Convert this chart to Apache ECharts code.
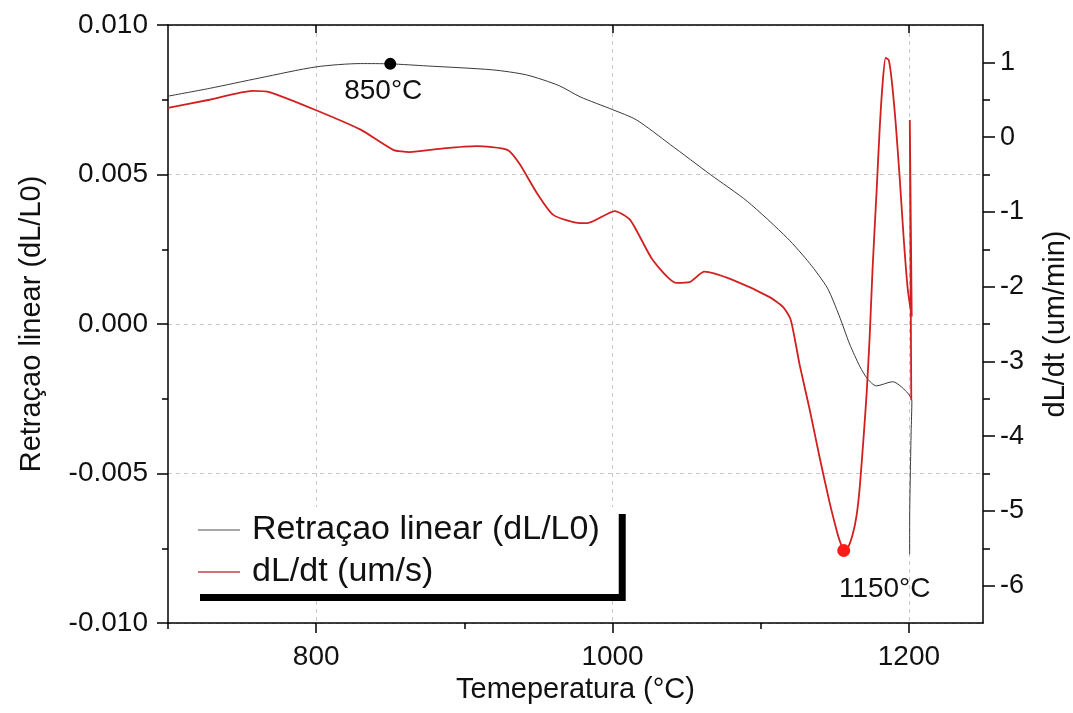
<!DOCTYPE html>
<html><head><meta charset="utf-8">
<script src="https://cdn.jsdelivr.net/npm/echarts@6/dist/echarts.min.js"></script>
<style>html,body{margin:0;padding:0;background:#fff}#c{width:1073px;height:713px}</style>
</head><body><div id="c"></div>
<script>
// Retração linear (dL/L0) vs temperatura
const tempRetracao = [700, 728, 762, 800, 830, 850, 875, 919, 942, 964, 978, 1000, 1016, 1039, 1066, 1091, 1118, 1133, 1145, 1153, 1160, 1167, 1172, 1178, 1189, 1198.5, 1202, 1201.5, 1201, 1200.5, 1200.5];
const retracao = [0.00762, 0.00788, 0.00823, 0.0086, 0.00871, 0.0087, 0.00863, 0.0085, 0.00833, 0.00797, 0.0076, 0.00717, 0.00683, 0.0060, 0.0050, 0.0041, 0.00287, 0.00203, 0.0012, 0.00027, -0.00067, -0.00143, -0.00183, -0.00207, -0.00193, -0.00227, -0.00257, -0.0036, -0.0049, -0.0066, -0.0077];
// dL/dt vs temperatura
const tempDldt = [700, 728, 757, 769, 800, 830, 852, 863, 886, 908, 929, 937, 949, 960, 978, 983, 1001.5, 1012, 1027, 1043, 1052, 1062, 1081, 1106, 1115, 1120, 1123, 1126.3, 1133.1, 1139.8, 1146.5, 1151.2, 1153.3, 1156, 1158.6, 1162, 1164.7, 1166.8, 1169.4, 1171.5, 1173.5, 1175.5, 1178.2, 1180.3, 1182.3, 1184.3, 1186.4, 1188.4, 1191.1, 1193.8, 1196.5, 1199.2, 1201.9, 1200.6, 1201.6];
const dldt = [0.39, 0.50, 0.62, 0.60, 0.36, 0.10, -0.17, -0.20, -0.15, -0.12, -0.17, -0.35, -0.75, -1.04, -1.15, -1.15, -0.99, -1.11, -1.64, -1.95, -1.94, -1.80, -1.91, -2.14, -2.27, -2.43, -2.70, -3.05, -3.65, -4.29, -4.89, -5.26, -5.40, -5.52, -5.50, -5.32, -5.06, -4.69, -4.02, -3.42, -2.68, -1.75, -0.72, 0.12, 0.73, 1.06, 1.03, 0.76, 0.18, -0.55, -1.36, -2.03, -2.40, 0.23, -3.52];
// annotated points
const markerBlack = [850, 0.0087];
const markerRed = [1156, -5.53];
const markerLabels = ['850°C', '1150°C'];
// ticks
const xMajorTicks = [800, 1000, 1200];
const xMinorTicks = [700, 900, 1100];
const yRightTicks = [-6, -5, -4, -3, -2, -1, 0, 1];
const yRightMinorTicks = [-5.5, -4.5, -3.5, -2.5, -1.5, -0.5, 0.5];
const seriesNames = ['Retraçao linear (dL/L0)', 'dL/dt (um/s)'];

const FONT = '"Liberation Sans", Arial, sans-serif';
const black = {color: '#000', width: 1.5};
const pair = (xs, ys) => xs.map((x, i) => [x, ys[i]]);

const chart = echarts.init(document.getElementById('c'), null, {renderer: 'canvas'});
chart.setOption({
  animation: false,
  backgroundColor: '#fff',
  textStyle: {fontFamily: FONT},
  grid: {left: 168, right: 90, top: 25, bottom: 90, containLabel: false, outerBoundsMode: 'none'},
  legend: {
    data: [
      {name: seriesNames[0], itemStyle: {color: '#8a8a8a'}},
      {name: seriesNames[1], itemStyle: {color: '#c2404a'}}
    ],
    orient: 'vertical', left: 193, top: 507,
    icon: 'rect', itemWidth: 42, itemHeight: 1.5, itemGap: 8,
    padding: [6, 19, 5, 5],
    backgroundColor: '#fff',
    shadowColor: '#000', shadowBlur: 0, shadowOffsetX: 7, shadowOffsetY: 7,
    selectedMode: false,
    textStyle: {fontSize: 34, color: '#111', fontFamily: FONT, padding: [0, 0, 0, 7]}
  },
  xAxis: [
    {
      type: 'value', position: 'bottom', min: 700, max: 1250,
      axisLine: {show: true, onZero: false, lineStyle: black},
      axisTick: {customValues: xMajorTicks, length: 10, lineStyle: black},
      axisLabel: {customValues: xMajorTicks, formatter: v => String(v), fontSize: 28, color: '#111', margin: 20, fontFamily: FONT},
      splitLine: {show: true, lineStyle: {type: [4, 4], color: '#c8c8c8', width: 1}},
      name: 'Temeperatura (°C)', nameLocation: 'middle', nameGap: 42,
      nameTextStyle: {fontSize: 29, color: '#111', fontFamily: FONT}
    },
    {
      type: 'value', position: 'bottom', min: 700, max: 1250,
      axisLine: {show: false, onZero: false},
      axisTick: {customValues: xMinorTicks, length: 6, lineStyle: black},
      axisLabel: {show: false}, splitLine: {show: false}
    },
    {
      type: 'value', position: 'top', min: 700, max: 1250,
      axisLine: {show: true, onZero: false, lineStyle: black},
      axisTick: {customValues: xMajorTicks, inside: true, length: 8, lineStyle: black},
      axisLabel: {show: false}, splitLine: {show: false}
    }
  ],
  yAxis: [
    {
      type: 'value', position: 'left', min: -0.01, max: 0.01, interval: 0.005,
      axisLine: {show: true, onZero: false, lineStyle: black},
      axisTick: {show: true, length: 11, lineStyle: black},
      minorTick: {show: true, splitNumber: 2, length: 6, lineStyle: black},
      axisLabel: {formatter: v => v.toFixed(3), fontSize: 28, color: '#111', margin: 20, fontFamily: FONT},
      splitLine: {show: true, lineStyle: {type: [4, 4], color: '#c8c8c8', width: 1}},
      name: 'Retraçao linear (dL/L0)', nameLocation: 'middle', nameRotate: 90, nameGap: 122,
      nameTextStyle: {fontSize: 29, color: '#111', fontFamily: FONT}
    },
    {
      type: 'value', position: 'right', min: -6.5, max: 1.5,
      axisLine: {show: true, onZero: false, lineStyle: black},
      axisTick: {customValues: yRightTicks, length: 12, lineStyle: black},
      axisLabel: {customValues: yRightTicks, fontSize: 27, color: '#111', margin: 17, fontFamily: FONT},
      splitLine: {show: false},
      name: 'dL/dt (um/min)', nameLocation: 'middle', nameRotate: 90, nameGap: 58,
      nameTextStyle: {fontSize: 29, color: '#111', fontFamily: FONT}
    },
    {
      type: 'value', position: 'right', min: -6.5, max: 1.5,
      axisLine: {show: false, onZero: false},
      axisTick: {customValues: yRightMinorTicks, length: 7, lineStyle: black},
      axisLabel: {show: false}, splitLine: {show: false}
    }
  ],
  series: [
    {
      name: seriesNames[0], type: 'line', xAxisIndex: 0, yAxisIndex: 0,
      data: pair(tempRetracao, retracao), showSymbol: false, smooth: 0.25,
      lineStyle: {color: '#3a3a3a', width: 1}, itemStyle: {color: '#3a3a3a'}, z: 3
    },
    {
      name: seriesNames[1], type: 'line', xAxisIndex: 0, yAxisIndex: 1,
      data: pair(tempDldt, dldt), showSymbol: false, smooth: 0.2,
      lineStyle: {color: '#d21f1f', width: 1.8}, itemStyle: {color: '#d21f1f'}, z: 3
    },
    {
      name: 'm850', type: 'scatter', xAxisIndex: 0, yAxisIndex: 0,
      data: [markerBlack], symbolSize: 12, itemStyle: {color: '#000', opacity: 1}, z: 5, silent: true,
      label: {show: true, formatter: markerLabels[0], position: 'bottom', distance: 5, offset: [-7, 2],
        fontSize: 28, color: '#111', fontFamily: FONT}
    },
    {
      name: 'm1150', type: 'scatter', xAxisIndex: 0, yAxisIndex: 1,
      data: [markerRed], symbolSize: 13, itemStyle: {color: '#ff1a1a', opacity: 1}, z: 5, silent: true,
      label: {show: true, formatter: markerLabels[1], position: 'bottom', distance: 5, offset: [41, 13],
        fontSize: 28, color: '#111', fontFamily: FONT}
    }
  ]
});
</script>
</body></html>
